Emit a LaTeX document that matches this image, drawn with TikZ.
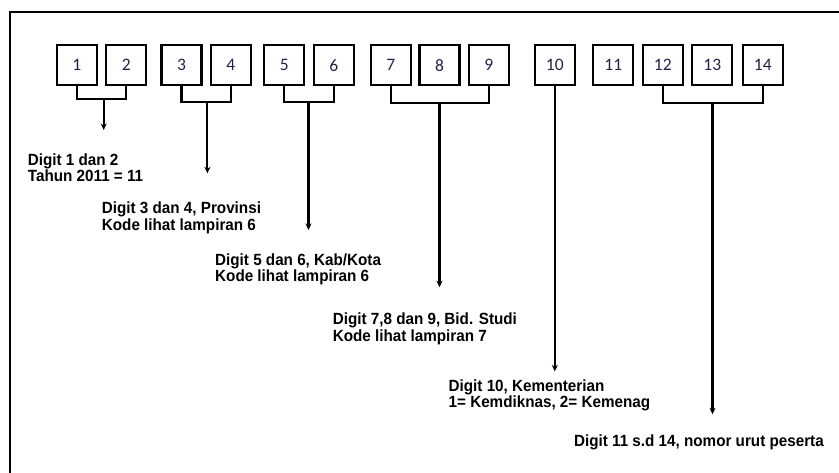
\documentclass[tikz,border=0pt]{standalone}
\usepackage{fontspec}
\setmainfont{Liberation Sans}
\newfontfamily\digitfont{Carlito}
\newfontfamily\labelfont[FakeStretch=0.94]{Liberation Sans}
\usetikzlibrary{arrows.meta}
\definecolor{digitcol}{RGB}{32,36,72}
\begin{document}
\begin{tikzpicture}[x=1pt,y=-1pt,
  digitbox/.style={draw,line width=2.1pt,minimum width=40pt,minimum height=40pt,inner sep=0pt,
    font=\digitfont\fontsize{17.5}{17.5}\selectfont,text=digitcol},
  conn/.style={line width=2.1pt},
  arr/.style={line width=2.1pt,-{Stealth[length=6.5pt,width=6pt]}},
  label/.style={anchor=north west,inner sep=0pt,align=left,
    font=\labelfont\bfseries\fontsize{16.2}{16.6}\selectfont}]
\useasboundingbox (0,0) rectangle (839,472);
% frame
\draw[line width=2pt] (10,473) -- (10,11.7) -- (840,11.7);
% boxes
\node[digitbox] (b1)  at (76.7,65.2) {1};
\node[digitbox] (b2)  at (126.2,65.2) {2};
\node[digitbox] (b3)  at (181.5,65.2) {3};
\node[digitbox] (b4)  at (230.8,65.2) {4};
\node[digitbox] (b5)  at (284.2,65.2) {5};
\node[digitbox] (b6)  at (333.7,65.2) {6};
\node[digitbox] (b7)  at (390.7,65.2) {7};
\node[digitbox] (b8)  at (439.5,65.2) {8};
\node[digitbox] (b9)  at (488.8,65.2) {9};
\node[digitbox] (b10) at (554.8,65.2) {10};
\node[digitbox] (b11) at (613.3,65.2) {11};
\node[digitbox] (b12) at (662.8,65.2) {12};
\node[digitbox] (b13) at (712.3,65.2) {13};
\node[digitbox] (b14) at (762.8,65.2) {14};
% labels
\node[label] (t1) at (27.7,153.3) {Digit 1 dan 2\\Tahun 2011 = 11};
\node[label] (t2) at (101.7,201.7) {Digit 3 dan 4, Provinsi\\Kode lihat lampiran 6};
\node[label] (t3) at (215,253.3) {Digit 5 dan 6, Kab/Kota\\Kode lihat lampiran 6};
\node[label] (t4) at (332.6,313) {Digit 7,8 dan 9, Bid. Studi\\Kode lihat lampiran 7};
\node[label] (t5) at (448.5,379.3) {Digit 10, Kementerian\\1= Kemdiknas, 2= Kemenag};
\node[label] (t6) at (573.9,434.3) {Digit 11 s.d 14, nomor urut peserta};
% arrow end points
\coordinate (e1) at (103.7,130);
\coordinate (e2) at (207.4,173.3);
\coordinate (e3) at (308.5,230);
\coordinate (e4) at (439.5,287.2);
\coordinate (e5) at (554.8,371.4);
\coordinate (e6) at (712.5,414.3);
% brackets
\draw[conn] (b1.south) |- (b2.south |- 0,99.3) -- (b2.south);
\draw[arr] (e1 |- 0,99.3) -- (e1);
\draw[conn] (b3.south) |- (b4.south |- 0,101.7) -- (b4.south);
\draw[arr] (e2 |- 0,101.7) -- (e2);
\draw[conn] (b5.south) |- (b6.south |- 0,101.7) -- (b6.south);
\draw[arr] (e3 |- 0,101.7) -- (e3);
\draw[conn] (b7.south) |- (b9.south |- 0,102.7) -- (b9.south);
\draw[arr] (e4 |- 0,102.7) -- (e4);
\draw[arr] (b10.south) -- (e5);
\draw[conn] (b12.south) |- (b14.south |- 0,102.7) -- (b14.south);
\draw[arr] (e6 |- 0,102.7) -- (e6);
\end{tikzpicture}
\end{document}
